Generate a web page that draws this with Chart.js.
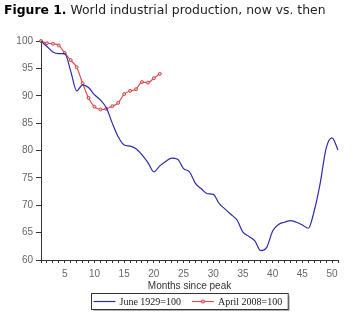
<!DOCTYPE html>
<html>
<head>
<meta charset="utf-8">
<script src="https://cdn.jsdelivr.net/npm/chart.js@4.4.1/dist/chart.umd.min.js"></script>
<style>
  html, body { margin: 0; padding: 0; background: #fff; }
  #wrap { position: relative; width: 358px; height: 323px; overflow: hidden; }
  #production { position: absolute; left: 0; top: 0; }
  #title { position: absolute; left: 4px; top: 2px; font-family: 'DejaVu Sans', sans-serif; font-size: 12.4px; color: #222; white-space: nowrap; }
  #title b { color: #000; }
</style>
</head>
<body>
<div id="wrap">
  <canvas id="production" width="358" height="323"></canvas>
  <div id="title"><b>Figure 1.</b> World industrial production, now vs. then</div>
</div>
<script>
// Months since peak (x categories)
var months = [1, 2, 3, 4, 5, 6, 7, 8, 9, 10, 11, 12, 13, 14, 15, 16, 17, 18, 19, 20,
    21, 22, 23, 24, 25, 26, 27, 28, 29, 30, 31, 32, 33, 34, 35, 36, 37, 38, 39, 40,
    41, 42, 43, 44, 45, 46, 47, 48, 49, 50, 51];

// Index, peak month = 100
var june1929 = [100, 99, 98, 97.7, 97.7, 94.5, 90.9, 92, 91.5, 90.2,
    89.2, 87.8, 85, 82.5, 81, 80.8, 80.3, 79.2, 77.8, 76.1,
    77.2, 78, 78.6, 78.4, 76.7, 76.1, 74, 73, 72.1, 72,
    70.3, 69.3, 68.3, 67.3, 65.1, 64.3, 63.5, 61.7, 62.3, 65.3,
    66.5, 66.9, 67.2, 66.9, 66.4, 65.8, 69, 74, 80.4, 82.3, 80.1];
var april2008 = [100, 99.6, 99.5, 99.2, 97.8, 96.5, 95.2, 92.3, 89.6, 88,
    87.5, 87.6, 88.1, 88.7, 90.3, 90.9, 91.2, 92.5, 92.4, 93.2, 94];

var xTickLabels = [5, 10, 15, 20, 25, 30, 35, 40, 45, 50];
var yTickLabels = [60, 65, 70, 75, 80, 85, 90, 95, 100];
var seriesNames = ['June 1929=100', 'April 2008=100'];

// legend in a framed box, drawn under the axis title
const boxedLegend = {
    id: 'boxedLegend',
    afterDraw(chart) {
        const {ctx, chartArea} = chart;
        const sets = chart.data.datasets;
        ctx.save();
        ctx.font = '10px "Liberation Serif", serif';
        const lineLen = 22, gap = 4, itemGap = 11, padL = 2, padR = 6;
        let total = padL + padR;
        sets.forEach((ds, i) => {
            total += lineLen + gap + ctx.measureText(ds.label).width;
            if (i > 0) total += itemGap;
        });
        const h = 16;
        const left = Math.round((chartArea.left + chartArea.right) / 2 - total / 2) + 0.5;
        const top = chartArea.bottom + 33.5;
        // shadow
        ctx.strokeStyle = '#b0b0b0';
        ctx.lineWidth = 1;
        ctx.beginPath();
        ctx.moveTo(left + 2, top + h + 1);
        ctx.lineTo(left + total + 1, top + h + 1);
        ctx.lineTo(left + total + 1, top + 2);
        ctx.stroke();
        ctx.strokeStyle = '#333';
        ctx.strokeRect(left, top, total, h);

        let x = left + padL;
        const cy = top + h / 2;
        ctx.textBaseline = 'middle';
        sets.forEach((ds, i) => {
            if (i > 0) x += itemGap;
            ctx.strokeStyle = ds.borderColor;
            ctx.lineWidth = 1.2;
            ctx.beginPath();
            ctx.moveTo(x, cy);
            ctx.lineTo(x + lineLen, cy);
            ctx.stroke();
            if (ds.pointRadius > 0) {
                ctx.beginPath();
                ctx.arc(x + lineLen / 2, cy, ds.pointRadius, 0, Math.PI * 2);
                ctx.fillStyle = ds.pointBackgroundColor;
                ctx.fill();
                ctx.stroke();
            }
            x += lineLen + gap;
            ctx.fillStyle = '#222';
            ctx.fillText(ds.label, x, cy + 0.5);
            x += ctx.measureText(ds.label).width;
        });
        ctx.restore();
    }
};

function renderProductionChart(ctx) {
    return new Chart(ctx, {
        type: 'line',
        data: {
            labels: months,
            datasets: [
                {
                    label: seriesNames[0],
                    data: june1929,
                    borderColor: '#2c2ca8',
                    borderWidth: 1.2,
                    pointRadius: 0,
                    cubicInterpolationMode: 'monotone',
                    clip: 4
                },
                {
                    label: seriesNames[1],
                    data: april2008,
                    borderColor: '#dd5050',
                    borderWidth: 1.2,
                    pointRadius: 1.5,
                    pointBorderWidth: 0.8,
                    pointBackgroundColor: '#f4c0c0',
                    pointBorderColor: '#c83030',
                    cubicInterpolationMode: 'monotone',
                    clip: 4
                }
            ]
        },
        options: {
            responsive: false,
            animation: false,
            layout: {
                padding: {top: 41, right: 20, bottom: 32, left: 0}
            },
            plugins: {
                legend: {display: false},
                tooltip: {enabled: false},
                title: {display: false}
            },
            scales: {
                x: {
                    type: 'category',
                    offset: false,
                    afterFit: function(scale) { scale.height = 31; },
                    border: {color: '#333', width: 1},
                    grid: {
                        drawOnChartArea: false,
                        drawTicks: true,
                        tickLength: 3,
                        tickColor: '#333'
                    },
                    ticks: {
                        autoSkip: false,
                        maxRotation: 0,
                        padding: 5,
                        color: '#666',
                        font: {family: '"Liberation Sans", sans-serif', size: 10},
                        callback: function(value, index) {
                            const m = months[index];
                            return xTickLabels.indexOf(m) >= 0 ? String(m) : '';
                        }
                    },
                    title: {
                        display: true,
                        text: 'Months since peak',
                        color: '#333',
                        padding: {top: 0, bottom: 0},
                        font: {family: '"Liberation Sans", sans-serif', size: 10, lineHeight: 1}
                    }
                },
                y: {
                    min: yTickLabels[0],
                    max: yTickLabels[yTickLabels.length - 1],
                    afterFit: function(scale) { scale.width = 41; },
                    border: {color: '#333', width: 1},
                    grid: {
                        drawOnChartArea: false,
                        drawTicks: true,
                        tickLength: 5,
                        tickColor: '#333'
                    },
                    ticks: {
                        stepSize: 5,
                        padding: 3,
                        color: '#666',
                        font: {family: '"Liberation Sans", sans-serif', size: 10}
                    }
                }
            }
        },
        plugins: [boxedLegend]
    });
}

window.onload = function() {
    const ctxProd = document.getElementById('production').getContext('2d');
    renderProductionChart(ctxProd);
};
</script>
</body>
</html>
